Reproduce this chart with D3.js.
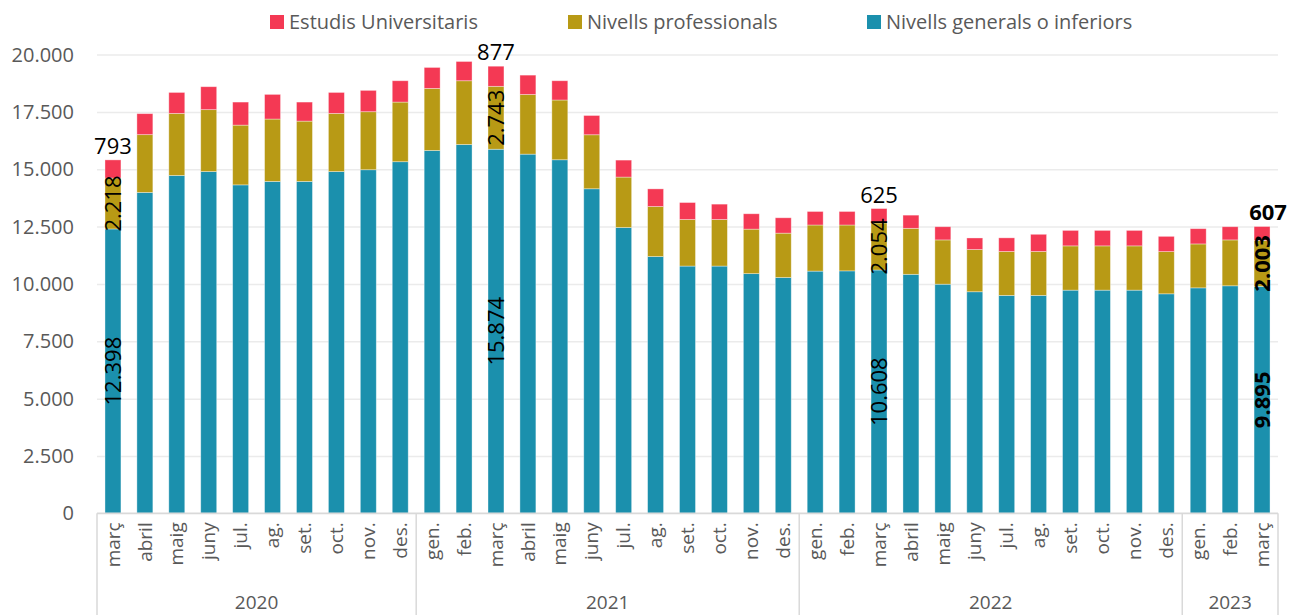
<!DOCTYPE html>
<html>
<head>
<meta charset="utf-8">
<script src="https://cdn.jsdelivr.net/npm/d3@7"></script>
<style>
  body { margin: 0; background: #fff; }
  svg { display: block; font-family: "Open Sans", sans-serif; }
</style>
</head>
<body>
<svg id="chart" width="1295" height="615"></svg>
<script>
// months and year groups (març 2020 - març 2023)
const months = [
  "març","abril","maig","juny","jul.","ag.","set.","oct.","nov.","des.",
  "gen.","feb.","març","abril","maig","juny","jul.","ag.","set.","oct.","nov.","des.",
  "gen.","feb.","març","abril","maig","juny","jul.","ag.","set.","oct.","nov.","des.",
  "gen.","feb.","març"
]
const years = ["2020", "2021", "2022", "2023"]
const yearCounts = [10, 12, 12, 3]

const generals = [12398, 13990, 14730, 14900, 14320, 14470, 14470, 14900, 14980, 15330,
  15820, 16080, 15874, 15660, 15415, 14150, 12460, 11195, 10780, 10780, 10450, 10280,
  10560, 10570, 10608, 10420, 9990, 9660, 9500, 9500, 9730, 9730, 9730, 9570,
  9830, 9920, 9895]
const professionals = [2218, 2520, 2705, 2700, 2605, 2720, 2630, 2535, 2530, 2600,
  2705, 2780, 2743, 2600, 2605, 2355, 2200, 2180, 2030, 2030, 1940, 1935,
  2010, 2000, 2054, 2005, 1930, 1840, 1915, 1915, 1930, 1930, 1930, 1840,
  1915, 2000, 2003]
const universitaris = [793, 915, 915, 1000, 1005, 1075, 830, 915, 930, 930,
  915, 840, 877, 845, 840, 840, 740, 770, 740, 670, 670, 670,
  590, 590, 625, 575, 575, 505, 595, 750, 675, 675, 675, 665,
  665, 575, 607]

const yTicks = [0, 2500, 5000, 7500, 10000, 12500, 15000, 17500, 20000]
const labelled = [0, 12, 24, 36]

const series = [
  { key: "gen", name: "Nivells generals o inferiors", values: generals, color: "#1b90ad" },
  { key: "pro", name: "Nivells professionals", values: professionals, color: "#b89a15" },
  { key: "uni", name: "Estudis Universitaris", values: universitaris, color: "#f43954" }
]

const fmt = d3.formatLocale({ decimal: ",", thousands: ".", grouping: [3], currency: ["", ""] }).format(",d")

const margin = { left: 97, right: 17, top: 54.6, bottom: 102 }
const W = 1295, H = 615
const svg = d3.select("#chart")

const x = d3.scaleBand()
  .domain(d3.range(months.length))
  .range([margin.left, W - margin.right])
  .paddingInner(0.5)
  .paddingOuter(0.25)

const y = d3.scaleLinear()
  .domain([0, 20000])
  .range([H - margin.bottom + 0.3, margin.top])

// gridlines + y labels
svg.append("g")
  .attr("transform", "translate(" + margin.left + ",0)")
  .call(d3.axisLeft(y).tickValues(yTicks).tickSize(-(W - margin.right - margin.left)).tickFormat(""))
  .call(g => g.select(".domain").remove())
  .call(g => g.selectAll("line").attr("stroke", "#ebebeb").attr("stroke-width", 1.5))

svg.append("g")
  .selectAll("text")
  .data(yTicks)
  .enter().append("text")
  .attr("x", 74)
  .attr("y", d => y(d))
  .attr("dy", "0.35em")
  .attr("text-anchor", "end")
  .attr("fill", "#595959")
  .style("font-size", "20px")
  .text(d => d === 0 ? "0" : fmt(d))

// stacked bars
const rows = months.map((m, i) => ({ gen: generals[i], pro: professionals[i], uni: universitaris[i] }))
const stack = d3.stack().keys(series.map(s => s.key))(rows)

svg.append("g")
  .selectAll("g")
  .data(stack)
  .enter().append("g")
  .attr("fill", (d, i) => series[i].color)
  .selectAll("rect")
  .data(d => d)
  .enter().append("rect")
  .attr("x", (d, i) => x(i))
  .attr("width", x.bandwidth())
  .attr("y", d => y(d[1]))
  .attr("height", d => y(d[0]) - y(d[1]))
  .attr("stroke", "#ffffff")
  .attr("stroke-opacity", 0.45)
  .attr("stroke-width", 0.8)

// data labels
const lab = svg.append("g").attr("fill", "#000").style("font-size", "22px")
labelled.forEach(i => {
  const cx = x(i) + x.bandwidth() / 2
  const bold = i === months.length - 1 ? "bold" : "normal"
  for (let s = 0; s < 2; s++) {
    const seg = stack[s][i]
    const cy = (y(seg[0]) + y(seg[1])) / 2
    lab.append("text")
      .attr("transform", "translate(" + cx + "," + cy + ") rotate(-90)")
      .attr("text-anchor", "middle")
      .attr("dy", "0.35em")
      .style("font-weight", bold)
      .text(fmt(series[s].values[i]))
  }
  lab.append("text")
    .attr("x", bold === "bold" ? cx + 6 : cx)
    .attr("y", y(stack[2][i][1]) - 6)
    .attr("text-anchor", "middle")
    .style("font-weight", bold)
    .text(fmt(universitaris[i]))
})

// x axis: baseline, group separators, month and year labels
const axisY = y(0)
const axisG = svg.append("g")
axisG.append("line")
  .attr("x1", margin.left).attr("x2", W - margin.right)
  .attr("y1", axisY).attr("y2", axisY)
  .attr("stroke", "#d9d9d9").attr("stroke-width", 1.5)

// band step covers full range because paddingInner == 2 * paddingOuter
let start = 0
const bounds = [margin.left]
yearCounts.forEach(c => {
  start += c
  bounds.push(margin.left + start * x.step())
})
axisG.selectAll(".sep")
  .data(bounds)
  .enter().append("line")
  .attr("class", "sep")
  .attr("x1", d => d).attr("x2", d => d)
  .attr("y1", axisY).attr("y2", H)
  .attr("stroke", "#d9d9d9").attr("stroke-width", 1.5)

axisG.selectAll(".month")
  .data(months)
  .enter().append("text")
  .attr("class", "month")
  .attr("transform", (d, i) => "translate(" + (x(i) + x.bandwidth() / 2) + "," + (axisY + 9) + ") rotate(-90)")
  .attr("text-anchor", "end")
  .attr("dy", "0.35em")
  .attr("fill", "#595959")
  .style("font-size", "19px")
  .text(d => d)

axisG.selectAll(".year")
  .data(years)
  .enter().append("text")
  .attr("class", "year")
  .attr("x", (d, i) => (bounds[i] + bounds[i + 1]) / 2)
  .attr("y", 609)
  .attr("text-anchor", "middle")
  .attr("fill", "#595959")
  .style("font-size", "19px")
  .text(d => d)

// legend
const legendX = [270, 568, 867]
const legendOrder = [series[2], series[1], series[0]]
const legend = svg.append("g")
  .selectAll("g")
  .data(legendOrder)
  .enter().append("g")
  .attr("transform", (d, i) => "translate(" + legendX[i] + ",15)")
legend.append("rect")
  .attr("width", 14).attr("height", 14)
  .attr("fill", d => d.color)
legend.append("text")
  .attr("x", 19)
  .attr("y", 7)
  .attr("dy", "0.35em")
  .attr("fill", "#595959")
  .style("font-size", "20px")
  .text(d => d.name)
</script>
</body>
</html>
